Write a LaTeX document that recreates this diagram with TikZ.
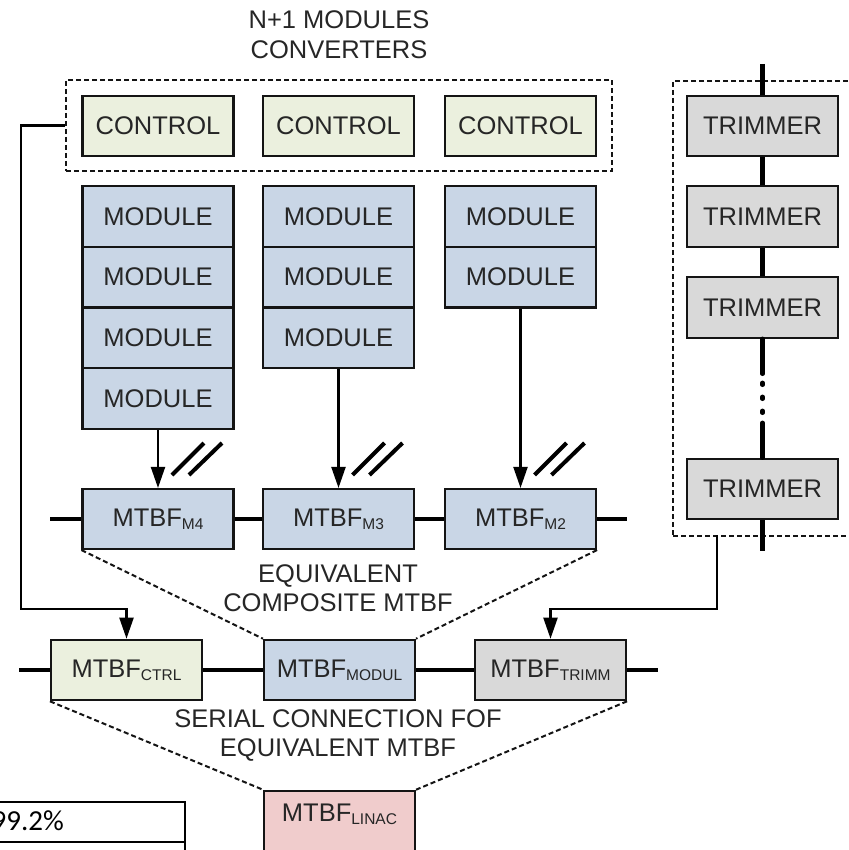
\documentclass[tikz,border=0pt]{standalone}
\usepackage{fontspec}
\setmainfont{Liberation Sans}
\newfontfamily\calib{Carlito}
\usetikzlibrary{arrows.meta,calc}
\definecolor{txt}{HTML}{262626}
\definecolor{edge}{HTML}{141414}
\definecolor{ctlfill}{HTML}{EBF0DE}
\definecolor{modfill}{HTML}{C9D6E6}
\definecolor{trmfill}{HTML}{D9D9D9}
\definecolor{linfill}{HTML}{F0CCCC}
\newcommand\mysub[1]{\raisebox{-3pt}{\fontsize{15.5}{15.5}\selectfont #1}}
\begin{document}
\begin{tikzpicture}[x=1pt,y=-1pt,
 blk/.style={draw=edge,line width=2.1pt,minimum width=151pt,minimum height=60.5pt,inner sep=0pt,text=txt,font=\fontsize{25.5}{30}\selectfont},
 ctl/.style={blk,fill=ctlfill},
 mod/.style={blk,fill=modfill,minimum height=60.75pt},
 trm/.style={blk,fill=trmfill},
 lin/.style={blk,fill=linfill},
 grp/.style={draw=edge,dash pattern=on 5pt off 3pt,line width=2pt,inner sep=0pt},
 serial/.style={line width=4.4pt,draw=black},
 conn/.style={line width=2.1pt,draw=black,-{Triangle[length=21pt,width=14pt]}},
 slash/.style={line width=4pt},
 diag/.style={line width=2pt,draw=edge,dash pattern=on 5pt off 3pt},
 lbl/.style={text=txt,font=\fontsize{25.5}{29}\selectfont,align=center,inner sep=0pt}]
\useasboundingbox (0,0) rectangle (848,850);
\clip (0,0) rectangle (848,850);

% title
\node[lbl,font=\fontsize{25.5}{30}\selectfont] (title) at (339,35) {N+1 MODULES\\CONVERTERS};

% groups
\node[grp,minimum width=546pt,minimum height=91pt] (cg) at (339,125.5) {};
\node[grp,minimum width=200pt,minimum height=455pt,anchor=north west] (tgrp) at (672,80) {};

% controls
\node[ctl] (c1) at (158,126) {CONTROL};
\node[ctl] (c2) at (338.5,126) {CONTROL};
\node[ctl] (c3) at (520.5,126) {CONTROL};

% modules
\node[mod] (a1) at (158,216.4) {MODULE};
\node[mod] (a2) at (158,277.1) {MODULE};
\node[mod] (a3) at (158,337.9) {MODULE};
\node[mod] (a4) at (158,398.6) {MODULE};
\node[mod] (b1) at (338.5,216.4) {MODULE};
\node[mod] (b2) at (338.5,277.1) {MODULE};
\node[mod] (b3) at (338.5,337.9) {MODULE};
\node[mod] (d1) at (520.5,216.4) {MODULE};
\node[mod] (d2) at (520.5,277.1) {MODULE};

% MTBF modules
\node[mod,minimum height=60pt] (m4) at (158,519) {MTBF\mysub{M4}};
\node[mod,minimum height=60pt] (m3) at (338.5,519) {MTBF\mysub{M3}};
\node[mod,minimum height=60pt] (m2) at (520.5,519) {MTBF\mysub{M2}};

% trimmers
\node[trm] (t1) at (762.5,126) {TRIMMER};
\node[trm] (t2) at (762.5,216.5) {TRIMMER};
\node[trm] (t3) at (762.5,307.5) {TRIMMER};
\node[trm] (t4) at (762.5,489) {TRIMMER};

% bottom row
\node[ctl] (ctrl) at (126.5,670) {MTBF\mysub{CTRL}};
\node[mod,minimum height=60.5pt] (modul) at (339.5,670) {MTBF\mysub{MODUL}};
\node[trm] (trimm) at (550.5,670) {MTBF\mysub{TRIMM}};
\node[lin] (linac) at (339.5,821) {\raisebox{17pt}{MTBF\mysub{LINAC}}};

% labels
\node[lbl] (eqc) at (338,588) {EQUIVALENT\\COMPOSITE MTBF};
\node[lbl] (ser) at (338,735.5) {SERIAL CONNECTION FOF\\EQUIVALENT MTBF};

% serial line modules
\coordinate (sL) at (50,519);
\coordinate (sR) at (627,519);
\draw[serial] (sL) -- (m4) (m4) -- (m3) (m3) -- (m2) (m2) -- (sR);

% serial line bottom
\coordinate (bL) at (19,670);
\coordinate (bR) at (658,670);
\draw[serial] (bL) -- (ctrl) (ctrl) -- (modul) (modul) -- (trimm) (trimm) -- (bR);

% trimmer chain
\coordinate (tT) at (762.5,64);
\coordinate (tB) at (762.5,551);
\draw[serial] (tT) -- (t1) (t1) -- (t2) (t2) -- (t3) (t4) -- (tB);
\draw[serial,line cap=round,dash pattern=on 35pt off 9pt on 2pt off 12pt on 2pt off 12pt on 2pt off 10pt on 60pt] (t3.south) -- (t4.north);

% arrows from module columns
\draw[conn] (a4.south) -- (m4.north);
\draw[conn] (b3.south) -- (m3.north);
\draw[conn] (d2.south) -- (m2.north);

% double slashes
\foreach \ax in {158,338.5,520.5}{
  \draw[slash] (\ax+14,475) -- (\ax+46,443);
  \draw[slash] (\ax+31,475) -- (\ax+64,443);
}

% control connector
\coordinate (cA) at (21,125.5);
\coordinate (cB) at (21,609);
\draw[conn] (cg.west) -- (cA) -- (cB) -| (ctrl.north);

% trimmer connector
\coordinate (tA) at (717,535);
\coordinate (tC) at (717,609);
\draw[conn] (tA) -- (tC) -| (trimm.north);

% dashed composition lines
\draw[diag] (m4.south west) -- (modul.north west);
\draw[diag] (m2.south east) -- (modul.north east);
\draw[diag] (ctrl.south west) -- (linac.north west);
\draw[diag] (trimm.south east) -- (linac.north east);

% table fragment
\draw[line width=1.8pt] (-5,802) -- (185,802) -- (185,860);
\draw[line width=1.8pt] (-5,842) -- (185,842);
\node[anchor=base east,inner sep=0pt,font=\calib\fontsize{29}{29}\selectfont] (pct) at (64,830) {99.2\%};
\end{tikzpicture}
\end{document}
